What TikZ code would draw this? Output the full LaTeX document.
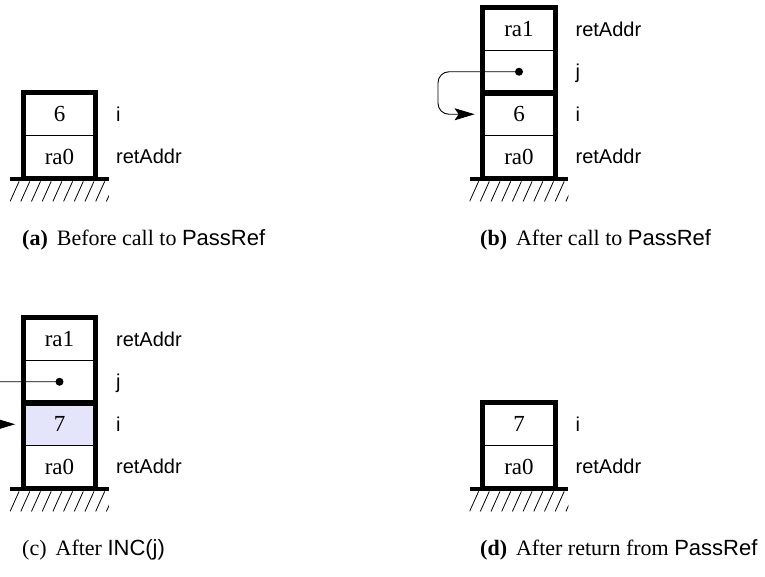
\documentclass[tikz,border=0pt]{standalone}
\usepackage{fontspec}
\setmainfont{Liberation Serif}
\setsansfont{Liberation Sans}
\usetikzlibrary{arrows.meta, positioning, calc}
\definecolor{hilite}{RGB}{228,228,250}

\begin{document}
\begin{tikzpicture}[x=1pt, y=-1pt,
    cell/.style={draw, line width=0.8pt, minimum width=72pt, minimum height=42.5pt, inner sep=0pt, font=\fontsize{23}{27}\selectfont},
    frame/.style={draw, line width=5pt, line join=miter},
    lbl/.style={anchor=west, inner sep=0pt, text height=14pt, text depth=0pt, font=\sffamily\fontsize{20}{24}\selectfont},
    captext/.style={anchor=base west, inner sep=0pt, font=\fontsize{22}{26}\selectfont},
    dot/.style={circle, fill, inner sep=0pt, minimum size=8pt},
    ptr/.style={-{Stealth[length=20pt, width=12pt, inset=4pt]}, line width=0.9pt, rounded corners=11pt, shorten >=8pt}]
  \clip (0,0) rectangle (765,576);
  % (a) before the call
  \node[cell] (a6) at (59.5,114.25) {6};
  \node[cell] (ara0) at (59.5,156.75) {ra0};
  \draw[frame] (a6.north west) rectangle (ara0.south east);
  \node[lbl, right=20pt of a6] (ai) {i};
  \node[lbl, right=20pt of ara0] (aret) {retAddr};
  % (b) after the call
  \node[cell] (bra1) at (519,29.25) {ra1};
  \node[cell] (bj) at (519,71.75) {};
  \node[cell] (b6) at (519,114.25) {6};
  \node[cell] (bra0) at (519,156.75) {ra0};
  \draw[frame] (bra1.north west) rectangle (bj.south east);
  \draw[frame] (b6.north west) rectangle (bra0.south east);
  \node[lbl, right=20pt of bra1] (bret1) {retAddr};
  \node[lbl, right=20pt of bj] (bjl) {j};
  \node[lbl, right=20pt of b6] (bi) {i};
  \node[lbl, right=20pt of bra0] (bret0) {retAddr};
  \node[dot] (bdot) at (bj) {};
  \draw[ptr] (bdot.center) -- ++(-81,0) |- (b6.west);
  % (c) after INC(j)
  \node[cell] (cra1) at (59.5,339.25) {ra1};
  \node[cell] (cj) at (59.5,381.75) {};
  \node[cell, fill=hilite] (c7) at (59.5,424.25) {7};
  \node[cell] (cra0) at (59.5,466.75) {ra0};
  \draw[frame] (cra1.north west) rectangle (cj.south east);
  \draw[frame] (c7.north west) rectangle (cra0.south east);
  \node[lbl, right=20pt of cra1] (cret1) {retAddr};
  \node[lbl, right=20pt of cj] (cjl) {j};
  \node[lbl, right=20pt of c7] (ci) {i};
  \node[lbl, right=20pt of cra0] (cret0) {retAddr};
  \node[dot] (cdot) at (cj) {};
  \draw[ptr] (cdot.center) -- ++(-81,0) |- (c7.west);
  % (d) after the return
  \node[cell] (d7) at (519,424.25) {7};
  \node[cell] (dra0) at (519,466.75) {ra0};
  \draw[frame] (d7.north west) rectangle (dra0.south east);
  \node[lbl, right=20pt of d7] (di) {i};
  \node[lbl, right=20pt of dra0] (dret) {retAddr};
  % ground under each stack
  \foreach \n in {ara0, bra0, cra0, dra0} {
    \draw[line width=4pt] ($(\n.south west)+(-13,1)$) -- ($(\n.south east)+(13,1)$);
    \begin{scope}
      \clip ($(\n.south west)+(-13,3)$) rectangle ($(\n.south east)+(13,23)$);
      \foreach \k in {0,...,10}
        \draw[line width=0.8pt] ($(\n.south west)+(-4+10.7*\k,3)$) -- ++(-9,20);
    \end{scope}
  }
  % captions
  \node[captext] (capa) at (22,245) {\textbf{(a)}\hspace{9pt}Before call to \textsf{PassRef}};
  \node[captext] (capb) at (480,245) {\textbf{(b)}\hspace{9pt}After call to \textsf{PassRef}};
  \node[captext] (capc) at (22,555) {(c)\hspace{9pt}After \textsf{INC(j)}};
  \node[captext] (capd) at (480,555) {\textbf{(d)}\hspace{9pt}After return from \textsf{PassRef}};
\end{tikzpicture}
\end{document}
